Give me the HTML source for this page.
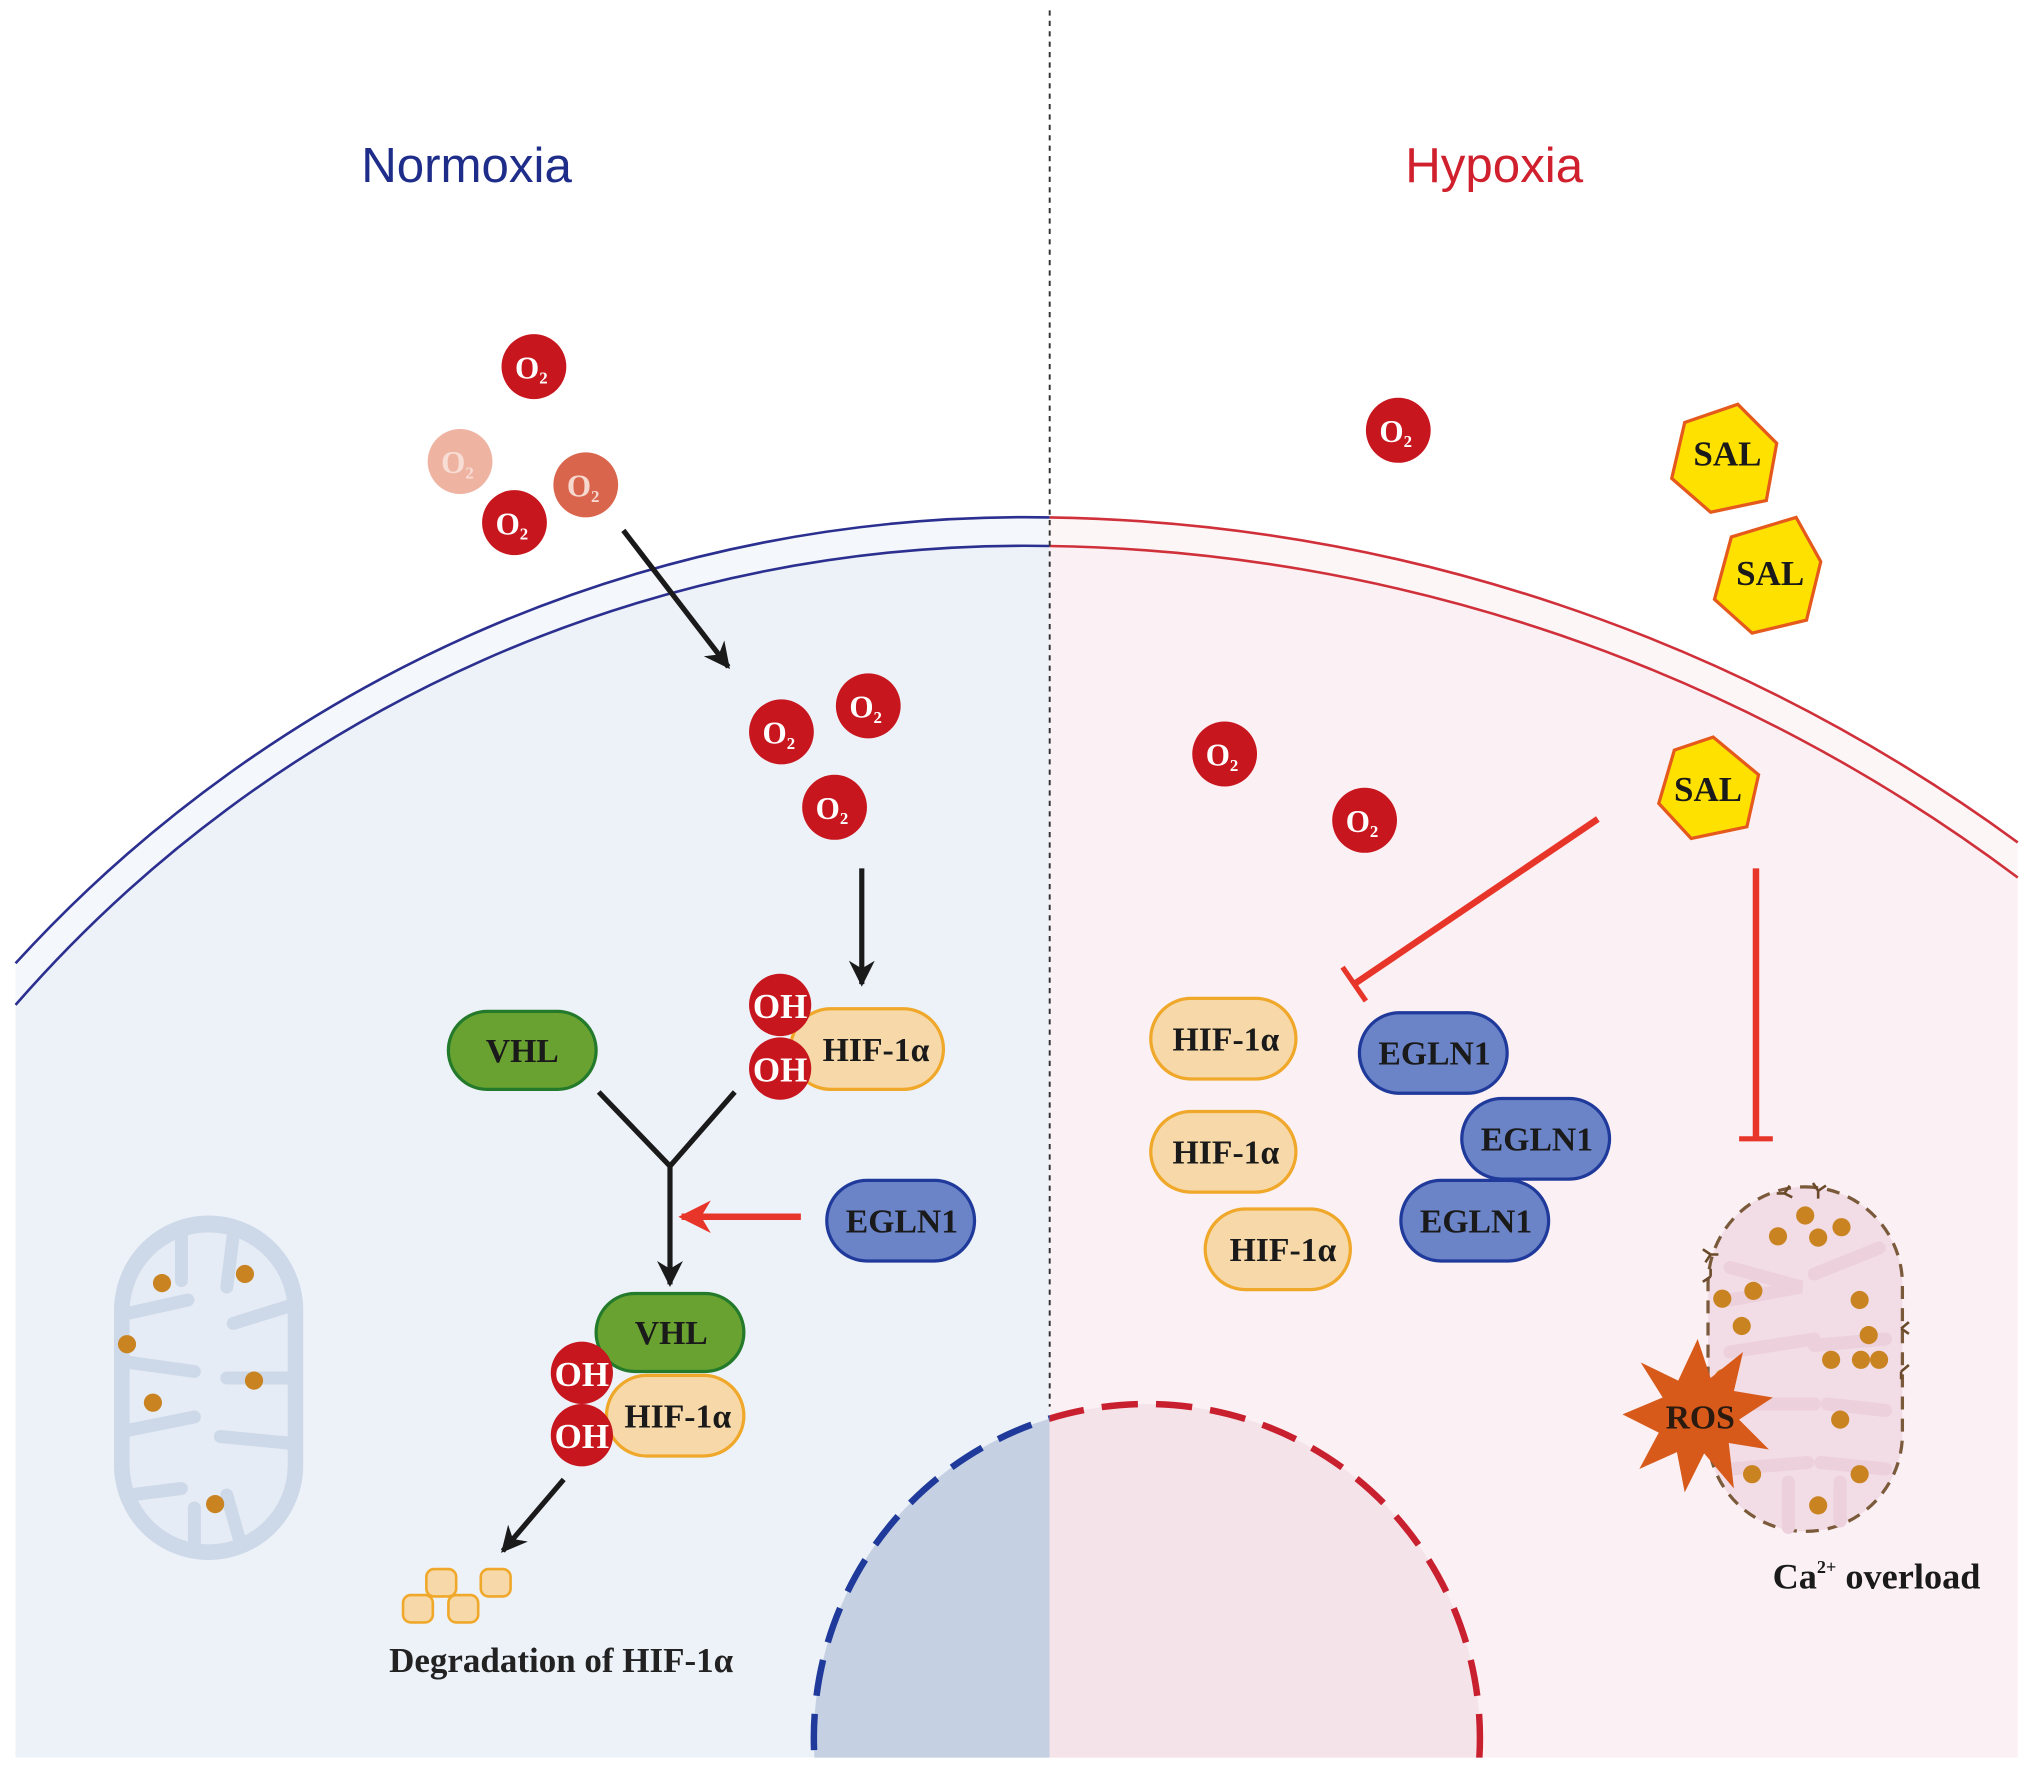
<!DOCTYPE html>
<html><head><meta charset="utf-8"><style>
html,body{margin:0;padding:0;background:#fff;width:2032px;height:1768px;overflow:hidden;}
svg{display:block;}
text{font-family:"Liberation Serif",serif;font-weight:bold;}
</style></head><body>
<svg width="2032" height="1768" viewBox="0 0 1568 1360" preserveAspectRatio="none" xmlns="http://www.w3.org/2000/svg">
<defs>
<clipPath id="cl"><rect x="0" y="0" width="810" height="1352"/></clipPath>
<clipPath id="cr"><rect x="810" y="0" width="760" height="1352"/></clipPath>
<clipPath id="cb"><rect x="0" y="0" width="1568" height="1352"/></clipPath>
<marker id="ab" viewBox="0 0 10 10" refX="9" refY="5" markerWidth="5" markerHeight="5" orient="auto"><path d="M0,0 L10,5 L0,10 L3,5 z" fill="#1a1a1a"/></marker>
<marker id="ar" viewBox="0 0 10 10" refX="9" refY="5" markerWidth="5" markerHeight="5" orient="auto"><path d="M0,0 L10,5 L0,10 L3,5 z" fill="#e8352a"/></marker>
</defs>

<g clip-path="url(#cl)">
<path d="M12,1352 L12,741 A1056,1056 0 0 1 810,398 A1302,1302 0 0 1 1557,648 L1557,1352 Z" fill="#f4f7fb"/>
<path d="M12,1352 L12,773 A1034,1034 0 0 1 810,420 A1280,1280 0 0 1 1557,675 L1557,1352 Z" fill="#edf2f8"/>
</g>
<g clip-path="url(#cr)">
<path d="M12,1352 L12,741 A1056,1056 0 0 1 810,398 A1302,1302 0 0 1 1557,648 L1557,1352 Z" fill="#fdf6f7"/>
<path d="M12,1352 L12,773 A1034,1034 0 0 1 810,420 A1280,1280 0 0 1 1557,675 L1557,1352 Z" fill="#fbf0f3"/>
</g>
<path d="M12,741 A1056,1056 0 0 1 810,398" fill="none" stroke="#2b2f8f" stroke-width="2"/>
<path d="M12,773 A1034,1034 0 0 1 810,420" fill="none" stroke="#2b2f8f" stroke-width="2"/>
<path d="M810,398 A1302,1302 0 0 1 1557,648" fill="none" stroke="#d0303a" stroke-width="2"/>
<path d="M810,420 A1280,1280 0 0 1 1557,675" fill="none" stroke="#d0303a" stroke-width="2"/>

<g clip-path="url(#cb)">
<g clip-path="url(#cl)"><circle cx="885" cy="1337" r="257" fill="#c5d0e3" stroke="#1f3a9a" stroke-width="5" stroke-dasharray="28,14"/></g>
<g clip-path="url(#cr)"><circle cx="885" cy="1337" r="257" fill="#f5e3ea" stroke="#c8202e" stroke-width="5" stroke-dasharray="28,14"/></g>
</g>

<line x1="810" y1="8" x2="810" y2="1082" stroke="#333" stroke-width="1.5" stroke-dasharray="4,4"/>

<text x="360" y="140" text-anchor="middle" font-size="38" fill="#1f2d8a" style="font-family:'Liberation Sans',sans-serif;font-weight:normal">Normoxia</text>
<text x="1153" y="140" text-anchor="middle" font-size="38" fill="#d0202e" style="font-family:'Liberation Sans',sans-serif;font-weight:normal">Hypoxia</text>

<g font-size="24" fill="#fff" text-anchor="middle">
<circle cx="412" cy="282" r="25" fill="#c8161e"/><text x="410" y="291">O<tspan font-size="13" dy="4">2</tspan></text>
<circle cx="355" cy="355" r="25" fill="#efb3a2"/><text x="353" y="364" fill="#f8ddd5">O<tspan font-size="13" dy="4">2</tspan></text>
<circle cx="452" cy="373" r="25" fill="#d9654c"/><text x="450" y="382" fill="#f6d8cf">O<tspan font-size="13" dy="4">2</tspan></text>
<circle cx="397" cy="402" r="25" fill="#c8161e"/><text x="395" y="411">O<tspan font-size="13" dy="4">2</tspan></text>
<circle cx="603" cy="563" r="25" fill="#c8161e"/><text x="601" y="572">O<tspan font-size="13" dy="4">2</tspan></text>
<circle cx="670" cy="543" r="25" fill="#c8161e"/><text x="668" y="552">O<tspan font-size="13" dy="4">2</tspan></text>
<circle cx="644" cy="621" r="25" fill="#c8161e"/><text x="642" y="630">O<tspan font-size="13" dy="4">2</tspan></text>
<circle cx="1079" cy="331" r="25" fill="#c8161e"/><text x="1077" y="340">O<tspan font-size="13" dy="4">2</tspan></text>
<circle cx="945" cy="580" r="25" fill="#c8161e"/><text x="943" y="589">O<tspan font-size="13" dy="4">2</tspan></text>
<circle cx="1053" cy="631" r="25" fill="#c8161e"/><text x="1051" y="640">O<tspan font-size="13" dy="4">2</tspan></text>
</g>

<line x1="481" y1="408" x2="562" y2="513" stroke="#1a1a1a" stroke-width="4" marker-end="url(#ab)"/>
<line x1="665" y1="668" x2="665" y2="757" stroke="#1a1a1a" stroke-width="4" marker-end="url(#ab)"/>
<polyline points="462,840 517,897 567,840" fill="none" stroke="#1a1a1a" stroke-width="4"/>
<line x1="517" y1="897" x2="517" y2="988" stroke="#1a1a1a" stroke-width="4" marker-end="url(#ab)"/>
<line x1="618" y1="936" x2="526" y2="936" stroke="#e8352a" stroke-width="5" marker-end="url(#ar)"/>
<line x1="435" y1="1138" x2="388" y2="1193" stroke="#1a1a1a" stroke-width="4" marker-end="url(#ab)"/>

<rect x="346" y="778" width="114" height="60" rx="30" fill="#6aa232" stroke="#237a2a" stroke-width="2.5"/>
<text x="403" y="817" font-size="26" fill="#1a1a1a" text-anchor="middle">VHL</text>
<rect x="610" y="776" width="118" height="62" rx="31" fill="#f7d8a8" stroke="#f0a82a" stroke-width="2.5"/>
<text x="676" y="816" font-size="26" fill="#1a1a1a" text-anchor="middle">HIF-1α</text>
<circle cx="602" cy="773" r="24" fill="#c8161e"/><circle cx="602" cy="822" r="24" fill="#c8161e"/>
<text x="602" y="783" font-size="27" fill="#fff" text-anchor="middle">OH</text>
<text x="602" y="832" font-size="27" fill="#fff" text-anchor="middle">OH</text>

<rect x="638" y="908" width="114" height="62" rx="31" fill="#6b84c8" stroke="#1f3a9a" stroke-width="2.5"/>
<text x="696" y="948" font-size="26" fill="#1a1a1a" text-anchor="middle">EGLN1</text>

<rect x="468" y="1058" width="106" height="62" rx="31" fill="#f7d8a8" stroke="#f0a82a" stroke-width="2.5"/>
<text x="523" y="1098" font-size="26" fill="#1a1a1a" text-anchor="middle">HIF-1α</text>
<rect x="460" y="995" width="114" height="60" rx="30" fill="#6aa232" stroke="#237a2a" stroke-width="2.5"/>
<text x="518" y="1034" font-size="26" fill="#1a1a1a" text-anchor="middle">VHL</text>
<circle cx="449" cy="1056" r="24" fill="#c8161e"/><circle cx="449" cy="1104" r="24" fill="#c8161e"/>
<text x="449" y="1066" font-size="27" fill="#fff" text-anchor="middle">OH</text>
<text x="449" y="1114" font-size="27" fill="#fff" text-anchor="middle">OH</text>

<g fill="#f7d8a8" stroke="#f0a82a" stroke-width="2">
<rect x="329" y="1207" width="23" height="21" rx="6"/>
<rect x="371" y="1207" width="23" height="21" rx="6"/>
<rect x="311" y="1227" width="23" height="21" rx="6"/>
<rect x="346" y="1227" width="23" height="21" rx="6"/>
</g>
<text x="433" y="1286" font-size="27" fill="#222" text-anchor="middle">Degradation of HIF-1α</text>

<rect x="88" y="935" width="146" height="265" rx="73" fill="#cdd8e8"/>
<rect x="100" y="948" width="122" height="240" rx="61" fill="#e6ecf5"/>
<g stroke="#cdd8e8" stroke-width="10" stroke-linecap="round" fill="none">
<path d="M140,950 L140,985"/><path d="M180,950 L175,990"/>
<path d="M100,1010 L145,1000"/><path d="M222,1005 L180,1018"/>
<path d="M100,1048 L150,1055"/><path d="M222,1060 L175,1060"/>
<path d="M100,1100 L150,1090"/><path d="M222,1110 L170,1105"/>
<path d="M100,1150 L140,1145"/><path d="M150,1188 L150,1160"/><path d="M185,1185 L175,1150"/>
</g>
<g fill="#c98320">
<circle cx="125" cy="987" r="7"/><circle cx="189" cy="980" r="7"/><circle cx="98" cy="1034" r="7"/>
<circle cx="196" cy="1062" r="7"/><circle cx="118" cy="1079" r="7"/><circle cx="166" cy="1157" r="7"/>
</g>

<g fill="#ffe100" stroke="#e55a1c" stroke-width="2.5">
<polygon points="1341,311 1371,341 1363,385 1320,394 1290,368 1300,325"/>
<polygon points="1386,398 1405,432 1394,477 1352,487 1323,461 1336,413"/>
<polygon points="1322,567 1357,596 1348,636 1305,645 1280,618 1292,577"/>
</g>
<g font-size="27" fill="#1a1a1a" text-anchor="middle">
<text x="1333" y="358">SAL</text><text x="1366" y="450">SAL</text><text x="1318" y="616">SAL</text>
</g>

<line x1="1233" y1="630" x2="1045" y2="757" stroke="#e8352a" stroke-width="5"/>
<line x1="1036" y1="744" x2="1054" y2="770" stroke="#e8352a" stroke-width="4"/>
<line x1="1355" y1="668" x2="1355" y2="876" stroke="#e8352a" stroke-width="5"/>
<line x1="1342" y1="876" x2="1368" y2="876" stroke="#e8352a" stroke-width="4"/>

<g fill="#f7d8a8" stroke="#f0a82a" stroke-width="2.5">
<rect x="888" y="768" width="112" height="62" rx="31"/>
<rect x="888" y="855" width="112" height="62" rx="31"/>
<rect x="930" y="930" width="112" height="62" rx="31"/>
</g>
<g font-size="26" fill="#1a1a1a" text-anchor="middle">
<text x="946" y="808">HIF-1α</text><text x="946" y="895">HIF-1α</text><text x="990" y="970">HIF-1α</text>
</g>
<g fill="#6b84c8" stroke="#1f3a9a" stroke-width="2.5">
<rect x="1049" y="779" width="114" height="62" rx="31"/>
<rect x="1128" y="845" width="114" height="62" rx="31"/>
<rect x="1081" y="908" width="114" height="62" rx="31"/>
</g>
<g font-size="26" fill="#1a1a1a" text-anchor="middle">
<text x="1107" y="819">EGLN1</text><text x="1186" y="885">EGLN1</text><text x="1139" y="948">EGLN1</text>
</g>

<rect x="1318" y="913" width="150" height="265" rx="75" fill="#f2dce6" stroke="#7a5a3a" stroke-width="2.5" stroke-dasharray="10,7"/>
<path d="M1335,1000 L1390,990 L1335,975 M1450,960 L1400,980 M1335,1040 L1400,1030 M1455,1030 L1400,1035 M1340,1080 L1400,1080 M1455,1085 L1410,1080 M1335,1130 L1395,1125 M1455,1130 L1405,1125 M1380,1175 L1380,1140 M1420,1170 L1420,1140" stroke="#ecd0dc" stroke-width="10" fill="none" stroke-linecap="round"/>
<g fill="#c98320">
<circle cx="1393" cy="935" r="7"/><circle cx="1421" cy="944" r="7"/><circle cx="1403" cy="952" r="7"/><circle cx="1372" cy="951" r="7"/>
<circle cx="1353" cy="993" r="7"/><circle cx="1329" cy="999" r="7"/><circle cx="1344" cy="1020" r="7"/>
<circle cx="1435" cy="1000" r="7"/><circle cx="1442" cy="1027" r="7"/>
<circle cx="1413" cy="1046" r="7"/><circle cx="1436" cy="1046" r="7"/><circle cx="1450" cy="1046" r="7"/>
<circle cx="1420" cy="1092" r="7"/><circle cx="1352" cy="1134" r="7"/><circle cx="1435" cy="1134" r="7"/><circle cx="1403" cy="1158" r="7"/>
<circle cx="1330" cy="1060" r="7"/><circle cx="1345" cy="1079" r="7"/>
</g>
<g stroke="#6a4a2a" stroke-width="2" fill="none">
<path d="M1377,918 l4,-6 m-4,6 l6,3 m-6,-3 l-6,0"/>
<path d="M1403,916 l-4,-6 m4,6 l6,-4 m-6,4 l0,6"/>
<path d="M1320,965 l-6,-4 m6,4 l-4,6 m4,-6 l6,0"/>
<path d="M1320,982 l-6,4 m6,-4 l0,-6"/>
<path d="M1467,1022 l6,-5 m-6,5 l6,4"/>
<path d="M1467,1055 l6,-5 m-6,5 l0,6"/>
</g>
<polygon points="1310,1030 1320,1060 1345,1040 1338,1070 1368,1075 1342,1092 1365,1115 1334,1110 1338,1145 1315,1118 1300,1148 1294,1117 1265,1130 1280,1102 1252,1088 1283,1075 1266,1048 1295,1062" fill="#d85a1a"/>
<text x="1312" y="1099" font-size="26" fill="#2a1a10" text-anchor="middle">ROS</text>

<text x="1448" y="1222" font-size="28" fill="#1a1a1a" text-anchor="middle">Ca<tspan font-size="14" dy="-12">2+</tspan><tspan dy="12"> overload</tspan></text>
</svg>
</body></html>
